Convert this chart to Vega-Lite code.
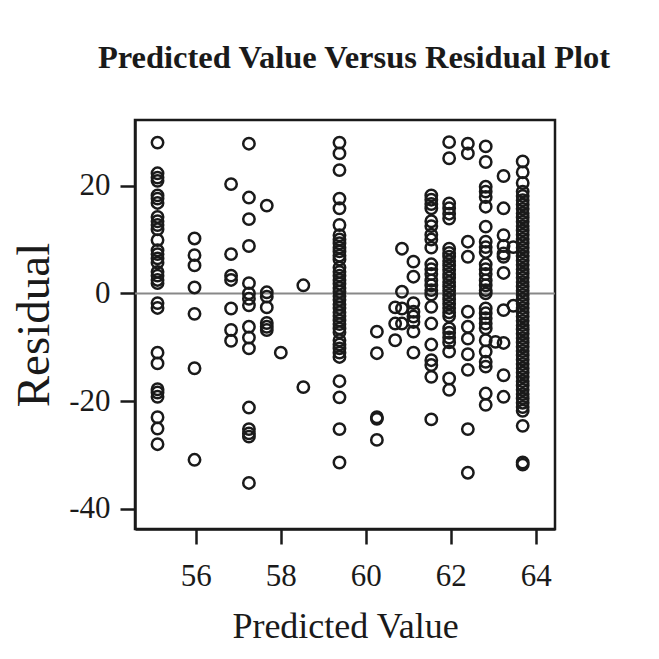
{
  "$schema": "https://vega.github.io/schema/vega-lite/v6.json",
  "autosize": {"type": "none"},
  "width": 420,
  "height": 409,
  "padding": {"left": 135, "top": 120, "right": 104, "bottom": 130},
  "background": "white",
  "title": {
    "text": "Predicted Value Versus Residual Plot",
    "font": "Liberation Serif",
    "fontSize": 32.5,
    "fontWeight": "bold",
    "color": "#1a1a1a",
    "anchor": "middle",
    "baseline": "alphabetic",
    "offset": 20,
    "dx": 9
  },
  "config": {
    "view": {"stroke": "#1a1a1a", "strokeWidth": 2.5},
    "axis": {
      "domainColor": "#1a1a1a",
      "domainWidth": 2.5,
      "tickColor": "#1a1a1a",
      "tickWidth": 2.5,
      "tickSize": 15,
      "grid": false,
      "labelFont": "Liberation Serif",
      "labelFontSize": 31,
      "labelColor": "#1a1a1a",
      "labelExpr": "'' + datum.value",
      "titleFont": "Liberation Serif",
      "titleFontSize": 36,
      "titleFontWeight": "normal",
      "titleColor": "#1a1a1a"
    }
  },
  "layer": [
    {
      "data": {"values": [{"r": 0}]},
      "mark": {"type": "rule", "color": "#888888", "strokeWidth": 2},
      "encoding": {
        "y": {"field": "r", "type": "quantitative", "scale": {"domain": [-43.75, 32.2], "nice": false, "zero": false}}
      }
    },
    {
      "data": {"values": [
        {"p": 55.1, "r": 28.0}, {"p": 55.1, "r": 22.3}, {"p": 55.1, "r": 21.5}, {"p": 55.1, "r": 20.9},
        {"p": 55.1, "r": 18.2}, {"p": 55.1, "r": 17.6}, {"p": 55.1, "r": 16.8}, {"p": 55.1, "r": 14.2},
        {"p": 55.1, "r": 13.4}, {"p": 55.1, "r": 12.7}, {"p": 55.1, "r": 11.9}, {"p": 55.1, "r": 9.9},
        {"p": 55.1, "r": 8.0}, {"p": 55.1, "r": 7.3}, {"p": 55.1, "r": 6.5}, {"p": 55.1, "r": 5.7},
        {"p": 55.1, "r": 4.0}, {"p": 55.1, "r": 3.3}, {"p": 55.1, "r": 2.5}, {"p": 55.1, "r": 1.9},
        {"p": 55.1, "r": -1.8}, {"p": 55.1, "r": -2.7}, {"p": 55.1, "r": -11.0}, {"p": 55.1, "r": -13.0},
        {"p": 55.1, "r": -17.8}, {"p": 55.1, "r": -18.4}, {"p": 55.1, "r": -19.2}, {"p": 55.1, "r": -23.0},
        {"p": 55.1, "r": -25.1}, {"p": 55.1, "r": -28.0},
        {"p": 55.97, "r": 10.2}, {"p": 55.97, "r": 7.1}, {"p": 55.97, "r": 5.2}, {"p": 55.97, "r": 1.1},
        {"p": 55.97, "r": -3.8}, {"p": 55.97, "r": -13.9}, {"p": 55.97, "r": -30.9},
        {"p": 56.83, "r": 20.3}, {"p": 56.83, "r": 7.3}, {"p": 56.83, "r": 3.3}, {"p": 56.83, "r": 2.5},
        {"p": 56.83, "r": -2.8}, {"p": 56.83, "r": -6.8}, {"p": 56.83, "r": -8.8},
        {"p": 57.25, "r": 27.8}, {"p": 57.25, "r": 17.8}, {"p": 57.25, "r": 13.8}, {"p": 57.25, "r": 8.8},
        {"p": 57.25, "r": 1.9}, {"p": 57.25, "r": 0.0}, {"p": 57.25, "r": -1.0}, {"p": 57.25, "r": -2.2},
        {"p": 57.25, "r": -6.2}, {"p": 57.25, "r": -8.2}, {"p": 57.25, "r": -10.2}, {"p": 57.25, "r": -21.2},
        {"p": 57.25, "r": -25.2}, {"p": 57.25, "r": -26.0}, {"p": 57.25, "r": -26.6}, {"p": 57.25, "r": -35.2},
        {"p": 57.67, "r": 16.3}, {"p": 57.67, "r": 0.2}, {"p": 57.67, "r": -0.6}, {"p": 57.67, "r": -2.6},
        {"p": 57.67, "r": -5.5}, {"p": 57.67, "r": -6.2}, {"p": 57.67, "r": -6.8},
        {"p": 58.0, "r": -11.0},
        {"p": 58.53, "r": 1.5}, {"p": 58.53, "r": -17.4},
        {"p": 59.38, "r": 28.0}, {"p": 59.38, "r": 26.0}, {"p": 59.38, "r": 22.9}, {"p": 59.38, "r": 17.6},
        {"p": 59.38, "r": 15.8}, {"p": 59.38, "r": 12.7}, {"p": 59.38, "r": 10.8}, {"p": 59.38, "r": 10.0},
        {"p": 59.38, "r": 9.3}, {"p": 59.38, "r": 8.5}, {"p": 59.38, "r": 7.8}, {"p": 59.38, "r": 7.0},
        {"p": 59.38, "r": 6.3}, {"p": 59.38, "r": 4.8}, {"p": 59.38, "r": 4.0}, {"p": 59.38, "r": 3.3},
        {"p": 59.38, "r": 2.5}, {"p": 59.38, "r": 1.8}, {"p": 59.38, "r": 1.0}, {"p": 59.38, "r": 0.3},
        {"p": 59.38, "r": -0.5}, {"p": 59.38, "r": -1.2}, {"p": 59.38, "r": -2.0}, {"p": 59.38, "r": -2.7},
        {"p": 59.38, "r": -3.5}, {"p": 59.38, "r": -4.2}, {"p": 59.38, "r": -5.0}, {"p": 59.38, "r": -5.7},
        {"p": 59.38, "r": -6.5}, {"p": 59.38, "r": -7.2}, {"p": 59.38, "r": -8.7}, {"p": 59.38, "r": -9.5},
        {"p": 59.38, "r": -10.2}, {"p": 59.38, "r": -11.0}, {"p": 59.38, "r": -11.8}, {"p": 59.38, "r": -16.3},
        {"p": 59.38, "r": -19.3}, {"p": 59.38, "r": -25.2}, {"p": 59.38, "r": -31.4},
        {"p": 60.26, "r": -7.1}, {"p": 60.26, "r": -11.1}, {"p": 60.26, "r": -23.0}, {"p": 60.26, "r": -23.3},
        {"p": 60.26, "r": -27.2},
        {"p": 60.69, "r": -2.6}, {"p": 60.69, "r": -5.6}, {"p": 60.69, "r": -8.7},
        {"p": 60.85, "r": 8.3}, {"p": 60.85, "r": 0.3}, {"p": 60.85, "r": -2.8}, {"p": 60.85, "r": -5.6},
        {"p": 61.12, "r": 5.9}, {"p": 61.12, "r": 3.1}, {"p": 61.12, "r": -1.8}, {"p": 61.12, "r": -3.4},
        {"p": 61.12, "r": -4.3}, {"p": 61.12, "r": -5.3}, {"p": 61.12, "r": -7.1}, {"p": 61.12, "r": -11.0},
        {"p": 61.54, "r": 18.2}, {"p": 61.54, "r": 17.4}, {"p": 61.54, "r": 16.6}, {"p": 61.54, "r": 15.8},
        {"p": 61.54, "r": 13.4}, {"p": 61.54, "r": 12.5}, {"p": 61.54, "r": 10.9}, {"p": 61.54, "r": 10.0},
        {"p": 61.54, "r": 8.5}, {"p": 61.54, "r": 5.4}, {"p": 61.54, "r": 4.5}, {"p": 61.54, "r": 3.6},
        {"p": 61.54, "r": 2.4}, {"p": 61.54, "r": 1.5}, {"p": 61.54, "r": 0.6}, {"p": 61.54, "r": -0.2},
        {"p": 61.54, "r": -2.5}, {"p": 61.54, "r": -5.6}, {"p": 61.54, "r": -9.5}, {"p": 61.54, "r": -12.4},
        {"p": 61.54, "r": -13.3}, {"p": 61.54, "r": -15.5}, {"p": 61.54, "r": -23.4},
        {"p": 61.96, "r": 28.1}, {"p": 61.96, "r": 25.1}, {"p": 61.96, "r": 16.7}, {"p": 61.96, "r": 15.8},
        {"p": 61.96, "r": 14.8}, {"p": 61.96, "r": 13.9}, {"p": 61.96, "r": 8.3}, {"p": 61.96, "r": 7.5},
        {"p": 61.96, "r": 6.8}, {"p": 61.96, "r": 6.0}, {"p": 61.96, "r": 5.2}, {"p": 61.96, "r": 4.4},
        {"p": 61.96, "r": 3.6}, {"p": 61.96, "r": 2.9}, {"p": 61.96, "r": 2.1}, {"p": 61.96, "r": 1.3},
        {"p": 61.96, "r": 0.5}, {"p": 61.96, "r": -0.3}, {"p": 61.96, "r": -1.1}, {"p": 61.96, "r": -1.9},
        {"p": 61.96, "r": -2.7}, {"p": 61.96, "r": -3.5}, {"p": 61.96, "r": -4.2}, {"p": 61.96, "r": -6.5},
        {"p": 61.96, "r": -7.3}, {"p": 61.96, "r": -8.2}, {"p": 61.96, "r": -9.1}, {"p": 61.96, "r": -10.8},
        {"p": 61.96, "r": -15.8}, {"p": 61.96, "r": -17.9},
        {"p": 62.4, "r": 27.8}, {"p": 62.4, "r": 26.0}, {"p": 62.4, "r": 9.6}, {"p": 62.4, "r": 6.8},
        {"p": 62.4, "r": -3.4}, {"p": 62.4, "r": -6.2}, {"p": 62.4, "r": -8.4}, {"p": 62.4, "r": -11.3},
        {"p": 62.4, "r": -14.2}, {"p": 62.4, "r": -25.2}, {"p": 62.4, "r": -33.3},
        {"p": 62.82, "r": 27.3}, {"p": 62.82, "r": 24.4}, {"p": 62.82, "r": 19.8}, {"p": 62.82, "r": 18.9},
        {"p": 62.82, "r": 17.9}, {"p": 62.82, "r": 16.1}, {"p": 62.82, "r": 12.4}, {"p": 62.82, "r": 9.6},
        {"p": 62.82, "r": 8.6}, {"p": 62.82, "r": 7.7}, {"p": 62.82, "r": 5.4}, {"p": 62.82, "r": 4.5},
        {"p": 62.82, "r": 3.6}, {"p": 62.82, "r": 2.4}, {"p": 62.82, "r": 1.5}, {"p": 62.82, "r": 0.6},
        {"p": 62.82, "r": 0.0}, {"p": 62.82, "r": -2.8}, {"p": 62.82, "r": -3.7}, {"p": 62.82, "r": -4.6},
        {"p": 62.82, "r": -5.6}, {"p": 62.82, "r": -6.5}, {"p": 62.82, "r": -8.7}, {"p": 62.82, "r": -10.8},
        {"p": 62.82, "r": -12.7}, {"p": 62.82, "r": -13.6}, {"p": 62.82, "r": -18.6}, {"p": 62.82, "r": -20.7},
        {"p": 63.05, "r": -9.0},
        {"p": 63.24, "r": 21.8}, {"p": 63.24, "r": 15.8}, {"p": 63.24, "r": 10.8}, {"p": 63.24, "r": 8.8},
        {"p": 63.24, "r": 7.4}, {"p": 63.24, "r": 6.8}, {"p": 63.24, "r": 3.8}, {"p": 63.24, "r": -3.1},
        {"p": 63.24, "r": -9.2}, {"p": 63.24, "r": -15.2}, {"p": 63.24, "r": -19.2},
        {"p": 63.47, "r": 8.6}, {"p": 63.47, "r": -2.3},
        {"p": 63.69, "r": 24.5}, {"p": 63.69, "r": 22.5}, {"p": 63.69, "r": 20.5}, {"p": 63.69, "r": 18.9},
        {"p": 63.69, "r": 18.1}, {"p": 63.69, "r": 17.3}, {"p": 63.69, "r": 16.5}, {"p": 63.69, "r": 15.7},
        {"p": 63.69, "r": 14.9}, {"p": 63.69, "r": 14.1}, {"p": 63.69, "r": 13.3}, {"p": 63.69, "r": 12.5},
        {"p": 63.69, "r": 11.7}, {"p": 63.69, "r": 10.9}, {"p": 63.69, "r": 10.1}, {"p": 63.69, "r": 9.3},
        {"p": 63.69, "r": 8.5}, {"p": 63.69, "r": 7.7}, {"p": 63.69, "r": 6.9}, {"p": 63.69, "r": 6.1},
        {"p": 63.69, "r": 5.3}, {"p": 63.69, "r": 4.5}, {"p": 63.69, "r": 3.7}, {"p": 63.69, "r": 2.9},
        {"p": 63.69, "r": 2.1}, {"p": 63.69, "r": 1.3}, {"p": 63.69, "r": 0.5}, {"p": 63.69, "r": -0.3},
        {"p": 63.69, "r": -1.1}, {"p": 63.69, "r": -1.9}, {"p": 63.69, "r": -2.7}, {"p": 63.69, "r": -3.5},
        {"p": 63.69, "r": -4.3}, {"p": 63.69, "r": -5.1}, {"p": 63.69, "r": -5.9}, {"p": 63.69, "r": -6.7},
        {"p": 63.69, "r": -7.5}, {"p": 63.69, "r": -8.3}, {"p": 63.69, "r": -9.1}, {"p": 63.69, "r": -9.9},
        {"p": 63.69, "r": -10.7}, {"p": 63.69, "r": -11.5}, {"p": 63.69, "r": -12.3}, {"p": 63.69, "r": -13.1},
        {"p": 63.69, "r": -13.9}, {"p": 63.69, "r": -14.7}, {"p": 63.69, "r": -15.5}, {"p": 63.69, "r": -16.3},
        {"p": 63.69, "r": -17.1}, {"p": 63.69, "r": -17.9}, {"p": 63.69, "r": -18.7}, {"p": 63.69, "r": -19.5},
        {"p": 63.69, "r": -20.3}, {"p": 63.69, "r": -21.1}, {"p": 63.69, "r": -21.8}, {"p": 63.69, "r": -24.6},
        {"p": 63.69, "r": -31.4}, {"p": 63.69, "r": -31.8}
      ]},
      "mark": {"type": "point", "shape": "circle", "filled": false, "color": "#1a1a1a", "strokeWidth": 2.5, "size": 130, "opacity": 1},
      "encoding": {
        "x": {
          "field": "p", "type": "quantitative", "title": "Predicted Value",
          "scale": {"domain": [54.57, 64.45], "nice": false, "zero": false},
          "axis": {"values": [56, 58, 60, 62, 64], "labelPadding": 17, "titlePadding": 18}
        },
        "y": {
          "field": "r", "type": "quantitative", "title": "Residual",
          "scale": {"domain": [-43.75, 32.2], "nice": false, "zero": false},
          "axis": {"values": [-40, -20, 0, 20], "labelPadding": 10, "titlePadding": 10, "titleFontSize": 47}
        }
      }
    }
  ]
}
